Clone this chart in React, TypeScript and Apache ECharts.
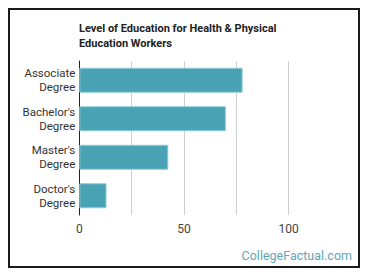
import React, { useEffect, useRef } from "react";
import * as echarts from "echarts";

const categories = ["Associate\nDegree", "Bachelor's\nDegree", "Master's\nDegree", "Doctor's\nDegree"];
const values = [78, 70, 42.5, 13];
const shownTicks = [0, 50, 100];

export default function App() {
  const ref = useRef<HTMLDivElement>(null);
  useEffect(() => {
    if (!ref.current) return;
    const chart = echarts.init(ref.current, null, { renderer: "svg" });
    chart.setOption({
      animation: false,
      textStyle: { fontFamily: "Roboto" },
      title: {
        text: "Level of Education for Health & Physical\nEducation Workers",
        left: 69,
        top: 11,
        padding: 0,
        textStyle: { fontFamily: "Roboto", fontSize: 11, fontWeight: "bold", color: "#222", lineHeight: 15 },
      },
      grid: { left: 69.3, top: 51, width: 209.4, height: 154, containLabel: false },
      xAxis: {
        type: "value",
        min: 0,
        max: 100,
        interval: 25,
        axisLine: { show: false },
        axisTick: { show: false },
        splitLine: { show: true, lineStyle: { color: "#d0d0d0", width: 1 } },
        axisLabel: {
          margin: 8,
          fontSize: 12,
          color: "#444",
          fontFamily: "Roboto",
          formatter: (v: number) => (shownTicks.includes(v) ? String(v) : ""),
        },
      },
      yAxis: {
        type: "category",
        data: categories,
        inverse: true,
        axisLine: { show: true, lineStyle: { color: "#222", width: 1 } },
        axisTick: { show: false },
        axisLabel: { margin: 4, fontSize: 11.5, color: "#333", lineHeight: 14, fontFamily: "Roboto", align: "right" },
      },
      series: [
        {
          type: "bar",
          data: values,
          barWidth: 25,
          itemStyle: { color: "#4aa3b4", borderColor: "#90cbd5", borderWidth: 1 },
        },
      ],
      graphic: [
        {
          type: "text",
          right: 6,
          top: 239,
          style: { text: "CollegeFactual.com", fontSize: 12.5, fontFamily: "Roboto", fill: "#5fa7b6" },
        },
      ],
    });
    return () => chart.dispose();
  }, []);
  return (
    <div style={{ width: 352, height: 260, border: "2px solid #1a1a1a", boxSizing: "border-box" }}>
      <div ref={ref} style={{ width: 348, height: 256 }} />
    </div>
  );
}
